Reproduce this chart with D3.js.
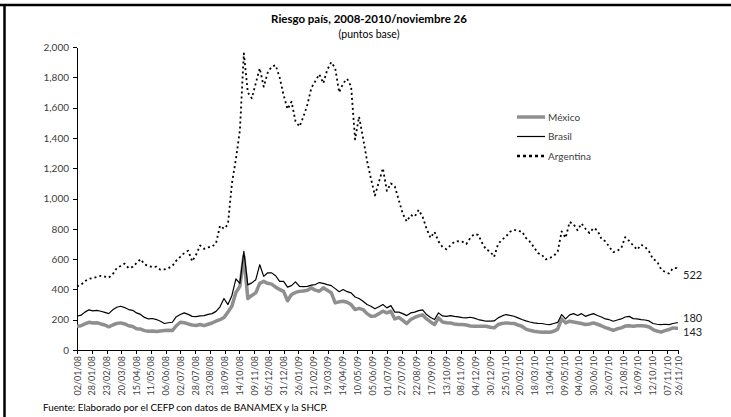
<!DOCTYPE html>
<html>
<head>
<meta charset="utf-8">
<title>Riesgo país</title>
<style>
	body { margin: 0; background: #fff; }
	text { font-family: Lato, 'Open Sans', sans-serif; fill: #404040; }
	.axis path, .axis line { stroke: #000; stroke-width: 1px; shape-rendering: crispEdges; }
	.axis text { font-size: 10px; }
	.x.axis text { font-size: 9px; }
	.line { fill: none; stroke-linejoin: round; }
</style>
</head>
<body>
<svg id="svg" width="731" height="417"></svg>
<script src="https://d3js.org/d3.v7.min.js"></script>
<script>
// weekly readings taken off the original chart
const dates = [
	'2008-01-02','2008-01-09','2008-01-16','2008-01-23','2008-01-30','2008-02-06','2008-02-13','2008-02-20','2008-02-27','2008-03-05',
	'2008-03-12','2008-03-19','2008-03-26','2008-04-02','2008-04-09','2008-04-16','2008-04-23','2008-04-30','2008-05-07','2008-05-14',
	'2008-05-21','2008-05-28','2008-06-04','2008-06-11','2008-06-18','2008-06-25','2008-07-02','2008-07-09','2008-07-16','2008-07-23',
	'2008-07-30','2008-08-06','2008-08-13','2008-08-20','2008-08-27','2008-09-03','2008-09-10','2008-09-17','2008-09-24','2008-10-01',
	'2008-10-08','2008-10-15','2008-10-22','2008-10-29','2008-11-05','2008-11-12','2008-11-19','2008-11-26','2008-12-03','2008-12-10',
	'2008-12-17','2008-12-24','2008-12-31','2009-01-07','2009-01-14','2009-01-21','2009-01-28','2009-02-04','2009-02-11','2009-02-18',
	'2009-02-25','2009-03-04','2009-03-11','2009-03-18','2009-03-25','2009-04-01','2009-04-08','2009-04-15','2009-04-22','2009-04-29',
	'2009-05-06','2009-05-13','2009-05-20','2009-05-27','2009-06-03','2009-06-10','2009-06-17','2009-06-24','2009-07-01','2009-07-08',
	'2009-07-15','2009-07-22','2009-07-29','2009-08-05','2009-08-12','2009-08-19','2009-08-26','2009-09-02','2009-09-09','2009-09-16',
	'2009-09-23','2009-09-30','2009-10-07','2009-10-14','2009-10-21','2009-10-28','2009-11-04','2009-11-11','2009-11-18','2009-11-25',
	'2009-12-02','2009-12-09','2009-12-16','2009-12-23','2009-12-30','2010-01-06','2010-01-13','2010-01-20','2010-01-27','2010-02-03',
	'2010-02-10','2010-02-17','2010-02-24','2010-03-03','2010-03-10','2010-03-17','2010-03-24','2010-03-31','2010-04-07','2010-04-14',
	'2010-04-21','2010-04-28','2010-05-05','2010-05-12','2010-05-19','2010-05-26','2010-06-02','2010-06-09','2010-06-16','2010-06-23',
	'2010-06-30','2010-07-07','2010-07-14','2010-07-21','2010-07-28','2010-08-04','2010-08-11','2010-08-18','2010-08-25','2010-09-01',
	'2010-09-08','2010-09-15','2010-09-22','2010-09-29','2010-10-06','2010-10-13','2010-10-20','2010-10-27','2010-11-03','2010-11-10',
	'2010-11-17','2010-11-24','2010-11-26'
]

const mexico = [
	157,160,172,183,178,180,172,165,153,165,
	175,179,172,160,155,140,138,128,124,126,
	122,125,128,130,128,160,183,180,172,165,
	162,168,161,170,178,190,200,215,250,290,
	380,420,618,340,360,377,440,453,440,435,
	415,400,387,325,366,380,387,390,395,410,
	395,388,410,395,378,311,318,322,315,300,
	267,275,267,240,223,225,240,256,245,256,
	205,215,195,175,201,215,225,232,205,185,
	168,212,185,180,179,172,168,168,165,158,
	157,157,157,157,150,146,168,175,179,176,
	175,165,157,138,130,124,120,117,118,117,
	124,138,205,179,190,185,180,175,168,172,
	179,170,160,148,140,130,140,146,158,160,
	157,160,160,158,152,135,125,118,128,135,
	146,143,143
]

const brasil = [
	223,230,250,265,258,262,256,248,240,265,
	282,289,280,267,262,245,235,215,205,208,
	201,190,175,180,183,220,234,245,235,222,
	220,225,227,235,240,255,285,340,300,360,
	470,440,651,430,443,464,563,486,510,509,
	490,453,453,415,425,450,420,418,420,428,
	432,445,440,432,425,405,385,399,385,377,
	350,340,322,300,289,272,285,300,278,293,
	250,250,240,227,245,250,260,265,234,215,
	201,245,225,222,227,222,219,214,212,216,
	210,201,196,190,190,192,212,225,234,228,
	223,212,201,192,185,179,176,175,170,168,
	175,182,234,205,232,240,228,240,222,232,
	240,228,218,205,200,190,198,205,218,222,
	207,205,201,198,192,175,170,168,170,168,
	175,180,180
]

const argentina = [
	420,430,455,470,475,482,490,485,478,500,
	540,555,570,540,548,575,600,565,555,548,
	550,530,532,540,555,590,615,640,655,585,
	630,690,668,678,682,705,820,800,830,1100,
	1260,1450,1958,1700,1661,1760,1860,1738,1830,1870,
	1880,1800,1683,1590,1639,1510,1475,1540,1620,1730,
	1775,1820,1760,1850,1900,1860,1700,1760,1790,1740,
	1390,1540,1400,1250,1130,1020,1110,1200,1050,1100,
	1080,990,900,848,890,880,925,880,800,740,
	780,717,680,665,690,715,718,715,700,740,
	765,760,706,662,651,615,700,728,750,780,
	794,785,783,740,715,680,640,629,598,607,
	620,650,783,740,845,830,790,835,800,772,
	805,790,735,717,680,645,655,672,745,720,
	690,662,695,680,650,600,585,535,515,505,
	540,540,522
]

const tickLabels = [
	'02/01/08','28/01/08','23/02/08','20/03/08','15/04/08','11/05/08','06/06/08','02/07/08','28/07/08','23/08/08',
	'18/09/08','14/10/08','09/11/08','05/12/08','31/12/08','26/01/09','21/02/09','19/03/09','14/04/09','10/05/09',
	'05/06/09','01/07/09','27/07/09','22/08/09','17/09/09','13/10/09','08/11/09','04/12/09','30/12/09','25/01/10',
	'20/02/10','18/03/10','13/04/10','09/05/10','04/06/10','30/06/10','26/07/10','21/08/10','16/09/10','12/10/10',
	'07/11/10','26/11/10'
]

const yTicks = [0, 200, 400, 600, 800, 1000, 1200, 1400, 1600, 1800, 2000]
const seriesNames = ['México', 'Brasil', 'Argentina']

const parseDay = d3.timeParse('%Y-%m-%d')
const parseTick = d3.timeParse('%d/%m/%y')
const days = dates.map(parseDay)
const tickDays = tickLabels.map(parseTick)

const svg = d3.select('#svg')

// frame lines (top and left only, like the source)
svg.append('line').attr('x1', 0).attr('x2', 731).attr('y1', 5).attr('y2', 5)
	.attr('stroke', '#000').attr('stroke-width', 2.5)
svg.append('line').attr('x1', 4.5).attr('x2', 4.5).attr('y1', 4).attr('y2', 417)
	.attr('stroke', '#000').attr('stroke-width', 2.5)

const x = d3.scaleTime()
	.domain([tickDays[0], tickDays[tickDays.length - 1]])
	.range([77, 678])
const y = d3.scaleLinear()
	.domain([0, 2000])
	.range([350, 47])

// title
svg.append('text').attr('x', 369).attr('y', 23)
	.attr('text-anchor', 'middle').style('font-weight', 'bold').style('font-size', '11.5px').style('fill', '#000')
	.text('Riesgo país, 2008-2010/noviembre 26')
svg.append('text').attr('x', 369).attr('y', 38)
	.attr('text-anchor', 'middle').style('font-size', '10.5px').style('fill', '#000')
	.text('(puntos base)')

// axes
const yAxis = svg.append('g').attr('class', 'y axis')
	.attr('transform', 'translate(77,0)')
	.call(d3.axisLeft(y).tickValues(yTicks).tickFormat(d3.format(',')).tickSize(4).tickSizeOuter(0))
yAxis.selectAll('text').attr('x', -8)

const xAxis = svg.append('g').attr('class', 'x axis')
	.attr('transform', 'translate(0,350)')
	.call(d3.axisBottom(x).tickValues(tickDays).tickFormat(d3.timeFormat('%d/%m/%y')).tickSize(4).tickSizeOuter(0))
xAxis.selectAll('text')
	.attr('transform', 'rotate(-90)')
	.attr('x', -6).attr('y', 0).attr('dy', '0.35em')
	.style('text-anchor', 'end')

// lines
const styles = [
	{ data: mexico, color: '#8f8f8f', width: 3.5, dash: null },
	{ data: brasil, color: '#000', width: 1.2, dash: null },
	{ data: argentina, color: '#000', width: 1.8, dash: '2,3' }
]

const line = d3.line()
	.x((d, i) => x(days[i]))
	.y(d => y(d))

svg.selectAll('.line')
	.data(styles)
	.enter().append('path')
	.attr('class', 'line')
	.attr('d', s => line(s.data))
	.attr('stroke', s => s.color)
	.attr('stroke-width', s => s.width)
	.attr('stroke-dasharray', s => s.dash)

// end labels
const endOffsets = [4, -5, 4]
styles.forEach((s, i) => {
	const last = s.data[s.data.length - 1]
	svg.append('text')
		.attr('x', x(days[days.length - 1]) + 5)
		.attr('y', y(last) + endOffsets[i])
		.attr('dy', '0.35em')
		.style('font-size', '11px')
		.style('fill', '#222')
		.text(last)
})

// legend
const legend = svg.append('g').attr('transform', 'translate(517,117)')
seriesNames.forEach((name, i) => {
	const g = legend.append('g').attr('transform', `translate(0,${i * 19.5})`)
	g.append('line').attr('x1', 0).attr('x2', 28)
		.attr('stroke', styles[i].color)
		.attr('stroke-width', i === 2 ? 2.5 : styles[i].width)
		.attr('stroke-dasharray', i === 2 ? '3,3' : styles[i].dash)
	g.append('text').attr('x', 31).attr('dy', '0.35em')
		.style('font-size', '10px').text(name)
})

// source note
svg.append('text').attr('x', 43).attr('y', 411)
	.style('font-size', '9.8px').style('fill', '#000')
	.text('Fuente: Elaborado por el CEFP con datos de BANAMEX y la SHCP.')
</script>
</body>
</html>
